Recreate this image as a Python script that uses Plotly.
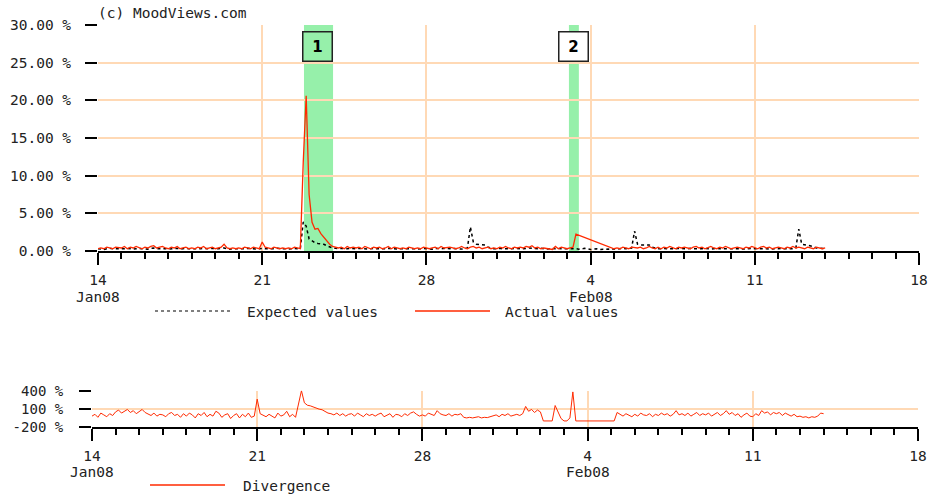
import pandas as pd
import plotly.graph_objects as go

# ---------------- data (3-hourly samples, Jan 14 2008 00:00 .. Feb 14 2008 00:00) ----------------
start_time = "2008-01-14 00:00"
step = "3h"

# Expected values (%), one row per day, 8 samples per day
expected_by_day = [
    [0.3, 0.25, 0.2, 0.3, 0.35, 0.3, 0.3, 0.25],    # Jan 14
    [0.3, 0.3, 0.35, 0.3, 0.25, 0.3, 0.35, 0.3],
    [0.3, 0.25, 0.35, 0.4, 0.3, 0.3, 0.35, 0.3],
    [0.25, 0.3, 0.3, 0.35, 0.25, 0.3, 0.35, 0.3],
    [0.3, 0.25, 0.3, 0.3, 0.35, 0.3, 0.3, 0.35],
    [0.3, 0.3, 0.35, 0.4, 0.3, 0.25, 0.3, 0.3],
    [0.3, 0.25, 0.3, 0.35, 0.3, 0.3, 0.25, 0.3],
    [0.35, 0.3, 0.3, 0.25, 0.3, 0.35, 0.3, 0.3],    # Jan 21
    [0.3, 0.25, 0.3, 0.35, 0.3, 0.3, 3.85, 3.3],
    [1.6, 1.3, 1.1, 1.0, 1.0, 0.9, 0.7, 0.5],
    [0.4, 0.35, 0.3, 0.35, 0.3, 0.3, 0.35, 0.3],
    [0.3, 0.35, 0.3, 0.3, 0.25, 0.3, 0.35, 0.3],
    [0.3, 0.25, 0.3, 0.35, 0.3, 0.3, 0.25, 0.3],
    [0.3, 0.3, 0.35, 0.3, 0.3, 0.25, 0.3, 0.35],
    [0.3, 0.3, 0.25, 0.35, 0.3, 0.3, 0.35, 0.3],    # Jan 28
    [0.3, 0.35, 0.3, 0.3, 0.25, 0.3, 0.4, 3.2],
    [1.2, 0.9, 0.85, 0.85, 0.8, 0.5, 0.35, 0.3],
    [0.3, 0.35, 0.3, 0.3, 0.25, 0.3, 0.35, 0.3],
    [0.3, 0.3, 0.35, 0.4, 0.35, 0.3, 0.3, 0.35],
    [0.3, 0.25, 0.3, 0.35, 0.3, 0.35, 0.3, 0.3],
    [0.3, 0.35, 0.3, 0.3, 0.25, 0.3, 0.35, 0.3],
    [0.2, 0.25, 0.3, 0.2, 0.25, 0.3, 0.25, 0.2],    # Feb 4
    [0.3, 0.25, 0.3, 0.35, 0.3, 0.3, 0.4, 2.65],
    [0.9, 0.8, 0.8, 0.75, 0.8, 0.5, 0.35, 0.3],
    [0.3, 0.35, 0.3, 0.3, 0.25, 0.3, 0.35, 0.3],
    [0.3, 0.3, 0.35, 0.3, 0.3, 0.25, 0.3, 0.35],
    [0.3, 0.25, 0.3, 0.35, 0.3, 0.3, 0.35, 0.3],
    [0.3, 0.35, 0.3, 0.3, 0.25, 0.3, 0.3, 0.35],
    [0.3, 0.3, 0.35, 0.3, 0.3, 0.25, 0.3, 0.3],     # Feb 11
    [0.3, 0.35, 0.3, 0.3, 0.25, 0.3, 0.4, 2.9],
    [0.9, 0.8, 0.8, 0.7, 0.6, 0.4, 0.35, 0.3],
]
expected_last = [0.3]

# Actual values (%); None = no data (line is drawn across the gap)
actual_by_day = [
    [0.3, 0.4, 0.3, 0.5, 0.4, 0.3, 0.5, 0.4],       # Jan 14
    [0.4, 0.6, 0.3, 0.5, 0.4, 0.6, 0.5, 0.3],
    [0.5, 0.4, 0.6, 0.7, 0.4, 0.5, 0.6, 0.4],
    [0.3, 0.5, 0.4, 0.6, 0.3, 0.4, 0.5, 0.3],
    [0.4, 0.3, 0.5, 0.4, 0.6, 0.3, 0.4, 0.5],
    [0.3, 0.4, 0.5, 0.9, 0.4, 0.3, 0.4, 0.3],
    [0.4, 0.3, 0.5, 0.4, 0.3, 0.5, 0.4, 0.3],
    [1.2, 0.5, 0.4, 0.3, 0.5, 0.4, 0.3, 0.4],       # Jan 21
    [0.3, 0.4, 0.3, 0.5, 0.4, 0.3, 11.8, 20.6],
    [7.5, 3.8, 2.9, 3.0, 2.3, 1.8, 1.4, 0.9],
    [0.6, 0.5, 0.4, 0.5, 0.3, 0.6, 0.4, 0.5],
    [0.4, 0.5, 0.3, 0.6, 0.4, 0.3, 0.5, 0.4],
    [0.5, 0.3, 0.4, 0.6, 0.3, 0.5, 0.4, 0.3],
    [0.4, 0.3, 0.5, 0.4, 0.3, 0.4, 0.3, 0.5],
    [0.4, 0.3, 0.4, 0.5, 0.3, 0.6, 0.4, 0.5],       # Jan 28
    [0.5, 0.4, 0.3, 0.4, 0.6, 0.4, 0.3, 0.5],
    [0.6, 0.4, 0.5, 0.3, 0.4, 0.5, 0.3, 0.4],
    [0.3, 0.5, 0.4, 0.6, 0.4, 0.3, 0.5, 0.4],
    [0.5, 0.4, 0.6, 0.5, 0.7, 0.4, 0.5, 0.3],
    [0.4, 0.3, 0.2, 0.2, 0.6, 0.3, 0.5, 0.4],
    [0.3, 0.4, 0.5, 2.25, None, None, None, None],
    [None, None, None, None, None, None, None, None],  # Feb 4
    [0.3, 0.4, 0.3, 0.5, 0.4, 0.3, 0.5, 0.4],
    [0.4, 0.5, 0.3, 0.4, 0.6, 0.4, 0.3, 0.5],
    [0.3, 0.5, 0.4, 0.6, 0.4, 0.3, 0.5, 0.4],
    [0.5, 0.4, 0.3, 0.5, 0.6, 0.4, 0.5, 0.3],
    [0.4, 0.6, 0.4, 0.3, 0.5, 0.4, 0.6, 0.4],
    [0.3, 0.4, 0.5, 0.4, 0.3, 0.5, 0.4, 0.6],
    [0.4, 0.3, 0.5, 0.6, 0.4, 0.5, 0.3, 0.4],       # Feb 11
    [0.5, 0.4, 0.3, 0.5, 0.4, 0.6, 0.4, 0.5],
    [0.4, 0.3, 0.5, 0.4, 0.3, 0.5, 0.4, 0.3],
]
actual_last = [0.4]

# Divergence (%)
divergence_by_day = [
    [-20, 10, -40, 30, 0, -30, 20, -10],            # Jan 14
    [50, 80, 30, 60, 90, 40, 70, 20],
    [60, 90, 40, 20, -10, 30, -20, 10],
    [0, -30, 20, 40, -10, 10, -40, 20],
    [-20, 30, 0, -50, 20, -10, 40, -30],
    [10, -20, 60, 30, -40, 0, 20, -60],
    [-10, 20, -50, 10, -30, 30, -40, -20],
    [260, 20, -10, -30, 10, -20, -50, 30],          # Jan 21
    [-20, 0, 60, -30, 10, -40, 180, 400],
    [200, 160, 150, 130, 120, 95, 85, 60],
    [30, 20, 0, 30, -10, 20, -20, 10],
    [20, -20, 30, 0, -30, 20, -10, 10],
    [-20, 10, 30, -30, 0, 20, -40, 10],
    [0, -30, 20, -10, 30, 50, 10, -20],
    [0, -20, 30, 10, -10, 70, 20, 0],               # Jan 28
    [-10, 20, -20, 10, 0, 20, -40, -50],
    [-40, -50, -45, -30, -50, -40, -45, -30],
    [-20, 0, -30, 10, -10, 20, -20, 0],
    [10, -10, 20, 140, 60, 90, 40, 80],
    [50, -100, -100, -100, -100, 155, 50, -60],
    [-100, -100, -50, 380, -100, -100, -100, -100],
    [-100, -100, -100, -100, -100, -100, -100, -100],  # Feb 4
    [-100, -100, 40, 10, -20, 20, 0, -30],
    [10, -20, 30, 0, -10, 20, -30, 10],
    [-10, 30, 0, 20, -20, 10, 70, 0],
    [20, -10, 30, -20, 10, 40, -10, 20],
    [0, 30, -20, 10, 40, -10, 20, 70],
    [10, 40, -10, 20, -40, 0, 30, -20],
    [-30, 20, -10, 70, 30, 50, 0, 40],              # Feb 11
    [20, 40, -10, 30, 0, -20, 10, -30],
    [-20, -40, -30, -50, -30, -40, -20, 30],
]
divergence_last = [20]

# Events (shaded periods with numbered labels)
event_labels = ["1", "2"]
event_starts = ["2008-01-22 18:45", "2008-02-03 01:50"]
event_ends = ["2008-01-24 00:30", "2008-02-03 12:00"]
event_label_x = ["2008-01-23 08:30", "2008-02-03 06:30"]
event_label_y = [27.15, 27.15]
event_label_bg = ["rgb(150,240,170)", "#ffffff"]

# Axis ticks
week_ticks = ["2008-01-14", "2008-01-21", "2008-01-28", "2008-02-04", "2008-02-11", "2008-02-18"]
week_tick_text = ["14", "21", "28", "4", "11", "18"]
month_label_dates = ["2008-01-14", "2008-02-04"]
month_label_text = ["Jan08", "Feb08"]
main_y_ticks = [0, 5, 10, 15, 20, 25, 30]
main_y_text = ["0.00 %", "5.00 %", "10.00 %", "15.00 %", "20.00 %", "25.00 %", "30.00 %"]
div_y_ticks = [-200, 100, 400]
div_y_text = ["-200 %", "100 %", "400 %"]


def flatten(rows, last):
    out = []
    for r in rows:
        out.extend(r)
    return out + last


expected = flatten(expected_by_day, expected_last)
actual = flatten(actual_by_day, actual_last)
divergence = flatten(divergence_by_day, divergence_last)
times = pd.date_range(start_time, periods=len(expected), freq=step)

# ---------------- figure ----------------
W, H = 929, 495
FONT = "DejaVu Sans Mono"
TXT = "#222222"
GRID = "#ffd9b5"
RED = "#ff2a00"
GREEN = "rgb(150,240,170)"


def px_x(p):
    return p / W


def px_y(p):
    return (H - p) / H


fig = go.Figure()

fig.add_trace(go.Scatter(x=times, y=expected, mode="lines", name="Expected values",
                         line=dict(color="black", width=1.5, dash="dot"),
                         xaxis="x", yaxis="y", showlegend=False))
fig.add_trace(go.Scatter(x=times, y=actual, mode="lines", name="Actual values",
                         line=dict(color=RED, width=1.3), connectgaps=True,
                         xaxis="x", yaxis="y", showlegend=False))
fig.add_trace(go.Scatter(x=times, y=divergence, mode="lines", name="Divergence",
                         line=dict(color=RED, width=1),
                         xaxis="x2", yaxis="y2", showlegend=False))

xaxis_common = dict(
    type="date",
    range=["2008-01-14", "2008-02-18"],
    tickmode="array", tickvals=week_ticks, ticktext=week_tick_text,
    ticks="outside", ticklen=12, tickwidth=2, tickcolor="black",
    showline=True, linecolor="black", linewidth=2,
    showgrid=True, gridcolor=GRID, gridwidth=2,
    zeroline=False,
    minor=dict(dtick=86400000, ticks="outside", ticklen=6, tickwidth=2,
               tickcolor="black", showgrid=False),
    tickfont=dict(family=FONT, size=14.5, color=TXT),
    ticklabelstandoff=3,
    ticklabeloverflow="allow",
    automargin=False,
    fixedrange=True,
)

fig.update_layout(
    width=W, height=H,
    margin=dict(l=0, r=0, t=0, b=0, autoexpand=False),
    paper_bgcolor="white", plot_bgcolor="white",
    hovermode=False,
    xaxis=dict(xaxis_common, domain=[px_x(98), px_x(919)], anchor="y"),
    yaxis=dict(domain=[px_y(251), px_y(25)], range=[0, 30], anchor="x",
               tickmode="array", tickvals=main_y_ticks, ticktext=main_y_text,
               ticks="outside", ticklen=12, tickwidth=2, tickcolor="black",
               showline=False, showgrid=True, gridcolor=GRID, gridwidth=2,
               zeroline=False, ticklabelstandoff=11, automargin=False,
               tickfont=dict(family=FONT, size=14.5, color=TXT), fixedrange=True),
    xaxis2=dict(xaxis_common, domain=[px_x(92), px_x(918)], anchor="y2"),
    yaxis2=dict(domain=[px_y(427), px_y(390.7)], range=[-200, 400], anchor="x2",
                tickmode="array", tickvals=div_y_ticks, ticktext=div_y_text,
                ticks="outside", ticklen=12, tickwidth=2, tickcolor="black",
                showline=False, showgrid=True, gridcolor=GRID, gridwidth=2,
                zeroline=False, ticklabelstandoff=13, automargin=False,
                tickfont=dict(family=FONT, size=14, color=TXT), fixedrange=True),
)

# shaded event periods
for s, e in zip(event_starts, event_ends):
    fig.add_shape(type="rect", xref="x", yref="y", x0=s, x1=e, y0=0, y1=30,
                  fillcolor=GREEN, line=dict(width=0), layer="below")

# numbered event boxes
for lab, lx, ly, bg in zip(event_labels, event_label_x, event_label_y, event_label_bg):
    fig.add_annotation(x=lx, y=ly, xref="x", yref="y", text="<b>" + lab + "</b>",
                       showarrow=False, font=dict(family="DejaVu Sans", size=15, color="black"),
                       bgcolor=bg, bordercolor="#222222", borderwidth=1.5, borderpad=0,
                       width=28, height=28, align="center", valign="middle")

# month labels under the first tick of each month
for xr, yy in (("x", 297), ("x2", 472)):
    for d, t in zip(month_label_dates, month_label_text):
        fig.add_annotation(x=d, y=px_y(yy), xref=xr, yref="paper", text=t,
                           showarrow=False, xanchor="center", yanchor="middle",
                           font=dict(family=FONT, size=14.5, color=TXT))

# copyright
fig.add_annotation(x=px_x(96), y=px_y(13), xref="paper", yref="paper",
                   text="(c) MoodViews.com", showarrow=False, xanchor="left", yanchor="middle",
                   font=dict(family=FONT, size=14.5, color=TXT))

# legends (drawn manually)
legend_items = [
    (155, 230, 311, "black", "dot", 1.2, 245, "Expected values"),
    (415, 490, 311, RED, "solid", 1.3, 503, "Actual values"),
    (150, 225, 485, RED, "solid", 1.3, 241, "Divergence"),
]
for x0, x1, yy, col, dash, lw, tx, label in legend_items:
    fig.add_shape(type="line", xref="paper", yref="paper",
                  x0=px_x(x0), x1=px_x(x1), y0=px_y(yy), y1=px_y(yy),
                  line=dict(color=col, width=lw, dash=dash))
    fig.add_annotation(x=px_x(tx), y=px_y(yy + 1), xref="paper", yref="paper",
                       text=label, showarrow=False, xanchor="left", yanchor="middle",
                       font=dict(family=FONT, size=14.5, color=TXT))

# place the figure at the page origin (no default body margin), no mode bar
fig.write_html("out.html", config={"displayModeBar": False},
               post_script="document.body.style.margin='0px';")
